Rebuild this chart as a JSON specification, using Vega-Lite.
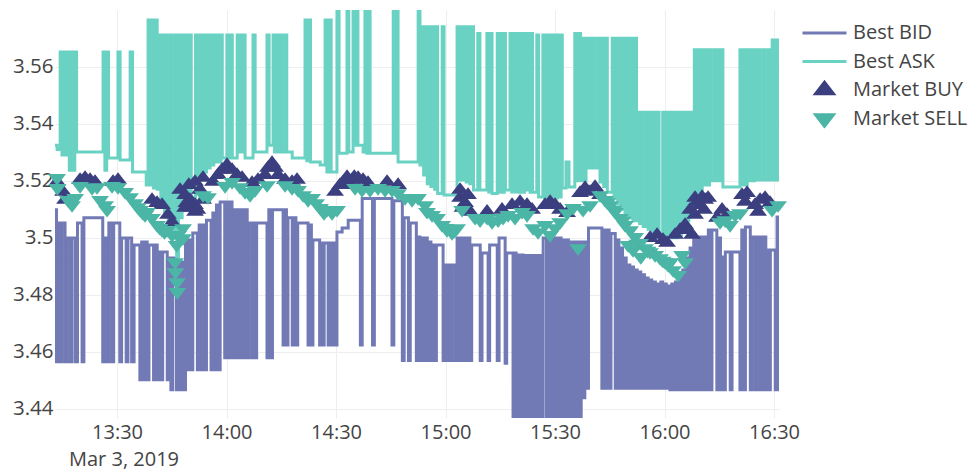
{
"$schema": "https://vega.github.io/schema/vega-lite/v6.json",
"autosize": {"type": "none"},
"width": 724, "height": 408,
"padding": {"left": 55, "top": 10, "right": 195, "bottom": 52},
"background": "white",
"config": {"font": "Open Sans", "view": {"stroke": null}},
"datasets": {
"bid": [
{"t":"2019-03-03T13:13:00","p":3.5098},{"t":"2019-03-03T13:13:25","p":3.4565},{"t":"2019-03-03T13:13:50","p":3.5052},{"t":"2019-03-03T13:14:25","p":3.4565},{"t":"2019-03-03T13:14:55","p":3.5052},{"t":"2019-03-03T13:15:45","p":3.4565},{"t":"2019-03-03T13:16:15","p":3.4999},{"t":"2019-03-03T13:17:05","p":3.4565},{"t":"2019-03-03T13:17:35","p":3.4999},{"t":"2019-03-03T13:18:30","p":3.4565},{"t":"2019-03-03T13:19:10","p":3.5052},{"t":"2019-03-03T13:20:25","p":3.4565},{"t":"2019-03-03T13:20:55","p":3.507},{"t":"2019-03-03T13:26:05","p":3.4565},{"t":"2019-03-03T13:26:35","p":3.4999},{"t":"2019-03-03T13:27:15","p":3.4565},{"t":"2019-03-03T13:27:45","p":3.5052},{"t":"2019-03-03T13:28:35","p":3.4565},{"t":"2019-03-03T13:29:05","p":3.5052},{"t":"2019-03-03T13:30:45","p":3.4565},{"t":"2019-03-03T13:31:15","p":3.4999},{"t":"2019-03-03T13:32:30","p":3.4565},{"t":"2019-03-03T13:33:00","p":3.4999},{"t":"2019-03-03T13:34:00","p":3.4565},{"t":"2019-03-03T13:34:40","p":3.4975},
{"t":"2019-03-03T13:36:15","p":3.4502},{"t":"2019-03-03T13:36:45","p":3.4985},{"t":"2019-03-03T13:37:15","p":3.4502},{"t":"2019-03-03T13:37:45","p":3.4985},{"t":"2019-03-03T13:38:15","p":3.4502},{"t":"2019-03-03T13:38:45","p":3.4975},{"t":"2019-03-03T13:40:00","p":3.4502},{"t":"2019-03-03T13:40:30","p":3.4975},{"t":"2019-03-03T13:41:00","p":3.4502},{"t":"2019-03-03T13:41:30","p":3.495},{"t":"2019-03-03T13:42:00","p":3.4502},{"t":"2019-03-03T13:42:30","p":3.495},{"t":"2019-03-03T13:43:45","p":3.4502},{"t":"2019-03-03T13:44:15","p":3.4929},{"t":"2019-03-03T13:44:45","p":3.4467},{"t":"2019-03-03T13:45:15","p":3.4929},{"t":"2019-03-03T13:46:15","p":3.4467},{"t":"2019-03-03T13:46:45","p":3.4915},{"t":"2019-03-03T13:47:15","p":3.4467},{"t":"2019-03-03T13:47:45","p":3.4915},{"t":"2019-03-03T13:48:15","p":3.4467},{"t":"2019-03-03T13:48:45","p":3.4992},
{"t":"2019-03-03T13:49:15","p":3.4537},{"t":"2019-03-03T13:49:45","p":3.4992},{"t":"2019-03-03T13:50:15","p":3.4537},{"t":"2019-03-03T13:50:45","p":3.5017},{"t":"2019-03-03T13:52:00","p":3.4537},{"t":"2019-03-03T13:52:30","p":3.5045},{"t":"2019-03-03T13:53:00","p":3.4537},{"t":"2019-03-03T13:53:30","p":3.5045},{"t":"2019-03-03T13:54:00","p":3.4537},{"t":"2019-03-03T13:54:30","p":3.5062},{"t":"2019-03-03T13:55:45","p":3.4537},{"t":"2019-03-03T13:56:15","p":3.5087},{"t":"2019-03-03T13:56:45","p":3.4537},{"t":"2019-03-03T13:57:15","p":3.5115},{"t":"2019-03-03T13:57:45","p":3.4537},{"t":"2019-03-03T13:58:15","p":3.5126},{"t":"2019-03-03T13:59:30","p":3.4579},{"t":"2019-03-03T14:00:00","p":3.5126},{"t":"2019-03-03T14:00:30","p":3.4579},{"t":"2019-03-03T14:01:00","p":3.5126},{"t":"2019-03-03T14:01:30","p":3.4579},{"t":"2019-03-03T14:02:00","p":3.5098},{"t":"2019-03-03T14:02:30","p":3.4579},{"t":"2019-03-03T14:03:00","p":3.5098},
{"t":"2019-03-03T14:03:40","p":3.4579},{"t":"2019-03-03T14:04:10","p":3.5098},{"t":"2019-03-03T14:04:40","p":3.4579},{"t":"2019-03-03T14:05:10","p":3.5098},{"t":"2019-03-03T14:05:40","p":3.4579},{"t":"2019-03-03T14:06:10","p":3.5052},{"t":"2019-03-03T14:07:00","p":3.4579},{"t":"2019-03-03T14:07:25","p":3.5052},{"t":"2019-03-03T14:07:50","p":3.4579},{"t":"2019-03-03T14:08:15","p":3.5052},{"t":"2019-03-03T14:11:05","p":3.4579},{"t":"2019-03-03T14:11:35","p":3.5098},{"t":"2019-03-03T14:12:05","p":3.4579},{"t":"2019-03-03T14:12:35","p":3.5098},{"t":"2019-03-03T14:15:30","p":3.4624},{"t":"2019-03-03T14:16:00","p":3.5098},{"t":"2019-03-03T14:16:25","p":3.4624},{"t":"2019-03-03T14:16:50","p":3.507},{"t":"2019-03-03T14:18:00","p":3.4624},{"t":"2019-03-03T14:18:30","p":3.507},{"t":"2019-03-03T14:19:00","p":3.4624},{"t":"2019-03-03T14:19:30","p":3.5052},{"t":"2019-03-03T14:22:20","p":3.4624},{"t":"2019-03-03T14:22:50","p":3.5045},{"t":"2019-03-03T14:23:15","p":3.4624},{"t":"2019-03-03T14:23:40","p":3.4992},{"t":"2019-03-03T14:25:30","p":3.4624},{"t":"2019-03-03T14:25:55","p":3.4982},{"t":"2019-03-03T14:26:20","p":3.4624},{"t":"2019-03-03T14:26:45","p":3.4982},{"t":"2019-03-03T14:27:50","p":3.4624},{"t":"2019-03-03T14:28:15","p":3.4982},{"t":"2019-03-03T14:28:40","p":3.4624},{"t":"2019-03-03T14:29:05","p":3.4982},{"t":"2019-03-03T14:29:40","p":3.4624},{"t":"2019-03-03T14:30:15","p":3.502},
{"t":"2019-03-03T14:31:40","p":3.5034},{"t":"2019-03-03T14:33:20","p":3.5062},{"t":"2019-03-03T14:36:40","p":3.4624},{"t":"2019-03-03T14:37:10","p":3.5138},{"t":"2019-03-03T14:40:00","p":3.4624},{"t":"2019-03-03T14:40:30","p":3.5138},{"t":"2019-03-03T14:45:20","p":3.4624},{"t":"2019-03-03T14:45:50","p":3.513},{"t":"2019-03-03T14:48:10","p":3.457},{"t":"2019-03-03T14:48:40","p":3.507},{"t":"2019-03-03T14:49:50","p":3.457},{"t":"2019-03-03T14:50:20","p":3.5052},{"t":"2019-03-03T14:52:00","p":3.457},{"t":"2019-03-03T14:52:25","p":3.5003},
{"t":"2019-03-03T14:53:00","p":3.457},{"t":"2019-03-03T14:53:30","p":3.4999},{"t":"2019-03-03T14:54:00","p":3.457},{"t":"2019-03-03T14:54:30","p":3.4999},{"t":"2019-03-03T14:55:00","p":3.457},{"t":"2019-03-03T14:55:30","p":3.4985},{"t":"2019-03-03T14:56:00","p":3.457},{"t":"2019-03-03T14:56:30","p":3.4975},{"t":"2019-03-03T14:57:00","p":3.457},{"t":"2019-03-03T14:57:30","p":3.4975},{"t":"2019-03-03T14:59:20","p":3.457},{"t":"2019-03-03T14:59:50","p":3.4905},{"t":"2019-03-03T15:00:20","p":3.457},{"t":"2019-03-03T15:00:50","p":3.4905},{"t":"2019-03-03T15:01:20","p":3.457},{"t":"2019-03-03T15:01:50","p":3.4905},{"t":"2019-03-03T15:02:40","p":3.457},{"t":"2019-03-03T15:03:10","p":3.4999},{"t":"2019-03-03T15:03:40","p":3.457},{"t":"2019-03-03T15:04:10","p":3.4999},{"t":"2019-03-03T15:04:40","p":3.457},{"t":"2019-03-03T15:05:10","p":3.4999},{"t":"2019-03-03T15:05:40","p":3.457},{"t":"2019-03-03T15:06:10","p":3.4999},{"t":"2019-03-03T15:06:40","p":3.457},{"t":"2019-03-03T15:07:10","p":3.4975},{"t":"2019-03-03T15:09:30","p":3.457},{"t":"2019-03-03T15:10:00","p":3.4947},{"t":"2019-03-03T15:11:40","p":3.457},{"t":"2019-03-03T15:12:05","p":3.4975},{"t":"2019-03-03T15:14:10","p":3.457},{"t":"2019-03-03T15:14:40","p":3.4999},
{"t":"2019-03-03T15:16:20","p":3.456},{"t":"2019-03-03T15:16:45","p":3.4947},{"t":"2019-03-03T15:18:30","p":3.4368},{"t":"2019-03-03T15:19:00","p":3.4947},{"t":"2019-03-03T15:19:20","p":3.4368},{"t":"2019-03-03T15:19:50","p":3.494},{"t":"2019-03-03T15:20:25","p":3.4368},{"t":"2019-03-03T15:20:55","p":3.494},{"t":"2019-03-03T15:21:15","p":3.4368},{"t":"2019-03-03T15:21:45","p":3.4938},{"t":"2019-03-03T15:22:15","p":3.4368},{"t":"2019-03-03T15:22:45","p":3.4938},{"t":"2019-03-03T15:23:15","p":3.4368},{"t":"2019-03-03T15:23:45","p":3.4938},{"t":"2019-03-03T15:24:15","p":3.4368},{"t":"2019-03-03T15:24:45","p":3.4938},{"t":"2019-03-03T15:25:15","p":3.4368},{"t":"2019-03-03T15:25:45","p":3.4938},{"t":"2019-03-03T15:26:15","p":3.4368},{"t":"2019-03-03T15:26:45","p":3.4999},{"t":"2019-03-03T15:27:40","p":3.4368},{"t":"2019-03-03T15:28:10","p":3.4999},{"t":"2019-03-03T15:28:40","p":3.4368},{"t":"2019-03-03T15:29:10","p":3.4999},{"t":"2019-03-03T15:29:40","p":3.4368},{"t":"2019-03-03T15:30:10","p":3.4999},{"t":"2019-03-03T15:30:40","p":3.4368},{"t":"2019-03-03T15:31:10","p":3.4999},{"t":"2019-03-03T15:31:40","p":3.4368},{"t":"2019-03-03T15:32:10","p":3.4992},{"t":"2019-03-03T15:32:40","p":3.4368},{"t":"2019-03-03T15:33:10","p":3.4992},{"t":"2019-03-03T15:33:40","p":3.4368},{"t":"2019-03-03T15:34:10","p":3.4985},{"t":"2019-03-03T15:34:40","p":3.4368},{"t":"2019-03-03T15:35:10","p":3.4985},{"t":"2019-03-03T15:35:40","p":3.4368},{"t":"2019-03-03T15:36:10","p":3.4985},{"t":"2019-03-03T15:36:40","p":3.4368},{"t":"2019-03-03T15:37:10","p":3.4985},{"t":"2019-03-03T15:37:40","p":3.4439},{"t":"2019-03-03T15:38:10","p":3.4985},{"t":"2019-03-03T15:38:40","p":3.4472},{"t":"2019-03-03T15:39:10","p":3.5034},
{"t":"2019-03-03T15:42:50","p":3.4472},{"t":"2019-03-03T15:43:20","p":3.5027},{"t":"2019-03-03T15:43:50","p":3.4472},{"t":"2019-03-03T15:44:20","p":3.5027},{"t":"2019-03-03T15:44:50","p":3.4472},{"t":"2019-03-03T15:45:20","p":3.5015},{"t":"2019-03-03T15:46:30","p":3.4472},{"t":"2019-03-03T15:47:00","p":3.4992},{"t":"2019-03-03T15:47:30","p":3.4472},{"t":"2019-03-03T15:48:00","p":3.4964},{"t":"2019-03-03T15:48:30","p":3.4472},{"t":"2019-03-03T15:49:00","p":3.4929},{"t":"2019-03-03T15:49:30","p":3.4472},{"t":"2019-03-03T15:50:00","p":3.4905},{"t":"2019-03-03T15:50:30","p":3.4472},{"t":"2019-03-03T15:51:00","p":3.4898},{"t":"2019-03-03T15:51:30","p":3.4472},{"t":"2019-03-03T15:52:00","p":3.4887},{"t":"2019-03-03T15:52:30","p":3.4472},{"t":"2019-03-03T15:53:00","p":3.488},{"t":"2019-03-03T15:53:30","p":3.4472},{"t":"2019-03-03T15:54:00","p":3.487},{"t":"2019-03-03T15:54:30","p":3.4472},{"t":"2019-03-03T15:55:00","p":3.4859},{"t":"2019-03-03T15:55:30","p":3.4472},{"t":"2019-03-03T15:56:00","p":3.4852},{"t":"2019-03-03T15:56:30","p":3.4472},{"t":"2019-03-03T15:57:00","p":3.4845},{"t":"2019-03-03T15:57:30","p":3.4472},{"t":"2019-03-03T15:58:00","p":3.4838},{"t":"2019-03-03T15:58:30","p":3.4472},{"t":"2019-03-03T15:59:00","p":3.4845},{"t":"2019-03-03T15:59:30","p":3.4472},{"t":"2019-03-03T16:00:00","p":3.4838},{"t":"2019-03-03T16:00:30","p":3.4472},{"t":"2019-03-03T16:01:00","p":3.4831},{"t":"2019-03-03T16:01:30","p":3.4467},{"t":"2019-03-03T16:02:00","p":3.4838},{"t":"2019-03-03T16:02:30","p":3.4467},{"t":"2019-03-03T16:03:00","p":3.4845},{"t":"2019-03-03T16:03:30","p":3.4467},{"t":"2019-03-03T16:04:00","p":3.4859},{"t":"2019-03-03T16:04:30","p":3.4467},{"t":"2019-03-03T16:05:00","p":3.4887},{"t":"2019-03-03T16:05:30","p":3.4467},{"t":"2019-03-03T16:06:00","p":3.4929},{"t":"2019-03-03T16:06:30","p":3.4467},{"t":"2019-03-03T16:07:00","p":3.4964},{"t":"2019-03-03T16:07:30","p":3.4467},{"t":"2019-03-03T16:08:00","p":3.4999},{"t":"2019-03-03T16:08:30","p":3.4467},{"t":"2019-03-03T16:09:00","p":3.5003},{"t":"2019-03-03T16:09:30","p":3.4467},{"t":"2019-03-03T16:10:00","p":3.5003},{"t":"2019-03-03T16:10:30","p":3.4467},{"t":"2019-03-03T16:11:00","p":3.5003},{"t":"2019-03-03T16:11:30","p":3.4467},{"t":"2019-03-03T16:12:00","p":3.5027},{"t":"2019-03-03T16:12:30","p":3.4467},{"t":"2019-03-03T16:13:00","p":3.5027},
{"t":"2019-03-03T16:14:20","p":3.4467},{"t":"2019-03-03T16:14:50","p":3.4999},{"t":"2019-03-03T16:15:20","p":3.4467},{"t":"2019-03-03T16:15:45","p":3.4933},{"t":"2019-03-03T16:16:10","p":3.4467},{"t":"2019-03-03T16:16:40","p":3.495},{"t":"2019-03-03T16:18:00","p":3.4467},{"t":"2019-03-03T16:18:30","p":3.495},{"t":"2019-03-03T16:20:40","p":3.4467},{"t":"2019-03-03T16:21:10","p":3.5027},{"t":"2019-03-03T16:21:40","p":3.4467},{"t":"2019-03-03T16:22:10","p":3.5038},{"t":"2019-03-03T16:23:30","p":3.4467},{"t":"2019-03-03T16:24:00","p":3.5003},{"t":"2019-03-03T16:24:50","p":3.4467},{"t":"2019-03-03T16:25:20","p":3.5003},{"t":"2019-03-03T16:25:45","p":3.4467},{"t":"2019-03-03T16:26:15","p":3.5003},{"t":"2019-03-03T16:26:45","p":3.4467},{"t":"2019-03-03T16:27:15","p":3.5003},{"t":"2019-03-03T16:27:45","p":3.4467},{"t":"2019-03-03T16:28:10","p":3.4957},{"t":"2019-03-03T16:28:35","p":3.4467},{"t":"2019-03-03T16:29:00","p":3.4957},{"t":"2019-03-03T16:30:20","p":3.4467},{"t":"2019-03-03T16:30:50","p":3.5073},{"t":"2019-03-03T16:31:05","p":3.4467},{"t":"2019-03-03T16:31:20","p":3.5073}
],
"ask": [
{"t":"2019-03-03T13:13:00","p":3.5325},{"t":"2019-03-03T13:13:35","p":3.531},{"t":"2019-03-03T13:14:25","p":3.5652},{"t":"2019-03-03T13:14:55","p":3.529},{"t":"2019-03-03T13:15:25","p":3.5652},{"t":"2019-03-03T13:15:55","p":3.529},{"t":"2019-03-03T13:16:25","p":3.5652},{"t":"2019-03-03T13:16:55","p":3.5237},{"t":"2019-03-03T13:17:25","p":3.5652},{"t":"2019-03-03T13:17:55","p":3.5237},{"t":"2019-03-03T13:18:25","p":3.5652},{"t":"2019-03-03T13:18:55","p":3.5301},{"t":"2019-03-03T13:26:10","p":3.5652},{"t":"2019-03-03T13:26:40","p":3.5237},{"t":"2019-03-03T13:27:10","p":3.5652},{"t":"2019-03-03T13:27:40","p":3.528},{"t":"2019-03-03T13:30:15","p":3.5652},{"t":"2019-03-03T13:30:50","p":3.5273},{"t":"2019-03-03T13:33:35","p":3.5652},{"t":"2019-03-03T13:34:15","p":3.5231},{"t":"2019-03-03T13:38:00","p":3.5185},
{"t":"2019-03-03T13:38:30","p":3.5764},{"t":"2019-03-03T13:39:00","p":3.5185},{"t":"2019-03-03T13:39:30","p":3.5764},{"t":"2019-03-03T13:40:00","p":3.5175},{"t":"2019-03-03T13:40:30","p":3.5764},{"t":"2019-03-03T13:41:00","p":3.517},{"t":"2019-03-03T13:41:30","p":3.5711},{"t":"2019-03-03T13:42:00","p":3.512},{"t":"2019-03-03T13:42:30","p":3.5711},{"t":"2019-03-03T13:43:00","p":3.509},{"t":"2019-03-03T13:43:30","p":3.5711},{"t":"2019-03-03T13:44:00","p":3.506},{"t":"2019-03-03T13:44:30","p":3.5711},{"t":"2019-03-03T13:45:00","p":3.4999},{"t":"2019-03-03T13:45:50","p":3.5711},{"t":"2019-03-03T13:46:20","p":3.4933},{"t":"2019-03-03T13:46:50","p":3.5711},{"t":"2019-03-03T13:47:20","p":3.507},{"t":"2019-03-03T13:47:50","p":3.5711},{"t":"2019-03-03T13:48:20","p":3.511},{"t":"2019-03-03T13:48:50","p":3.5711},{"t":"2019-03-03T13:49:20","p":3.514},{"t":"2019-03-03T13:49:50","p":3.5711},{"t":"2019-03-03T13:50:20","p":3.514},{"t":"2019-03-03T13:51:30","p":3.5711},{"t":"2019-03-03T13:52:00","p":3.521},{"t":"2019-03-03T13:52:30","p":3.5711},{"t":"2019-03-03T13:53:00","p":3.521},{"t":"2019-03-03T13:53:30","p":3.5711},{"t":"2019-03-03T13:54:00","p":3.5231},{"t":"2019-03-03T13:54:30","p":3.5711},{"t":"2019-03-03T13:55:00","p":3.5245},{"t":"2019-03-03T13:55:30","p":3.5711},{"t":"2019-03-03T13:56:00","p":3.5255},{"t":"2019-03-03T13:56:30","p":3.5711},{"t":"2019-03-03T13:57:00","p":3.5266},{"t":"2019-03-03T13:57:30","p":3.5711},{"t":"2019-03-03T13:58:00","p":3.5266},{"t":"2019-03-03T13:58:30","p":3.5711},{"t":"2019-03-03T13:58:50","p":3.528},{"t":"2019-03-03T14:00:05","p":3.5711},{"t":"2019-03-03T14:00:35","p":3.528},{"t":"2019-03-03T14:01:05","p":3.5711},{"t":"2019-03-03T14:01:35","p":3.528},{"t":"2019-03-03T14:02:55","p":3.5711},{"t":"2019-03-03T14:03:25","p":3.5301},{"t":"2019-03-03T14:03:55","p":3.5711},{"t":"2019-03-03T14:04:25","p":3.5301},{"t":"2019-03-03T14:04:45","p":3.5711},{"t":"2019-03-03T14:05:05","p":3.528},
{"t":"2019-03-03T14:07:15","p":3.5711},{"t":"2019-03-03T14:07:50","p":3.5301},{"t":"2019-03-03T14:11:05","p":3.5711},{"t":"2019-03-03T14:11:40","p":3.5325},{"t":"2019-03-03T14:12:45","p":3.5711},{"t":"2019-03-03T14:13:10","p":3.5301},{"t":"2019-03-03T14:13:35","p":3.5711},{"t":"2019-03-03T14:14:05","p":3.5301},{"t":"2019-03-03T14:14:40","p":3.5711},{"t":"2019-03-03T14:15:10","p":3.5301},{"t":"2019-03-03T14:16:00","p":3.5711},{"t":"2019-03-03T14:16:30","p":3.5301},{"t":"2019-03-03T14:18:00","p":3.528},{"t":"2019-03-03T14:21:30","p":3.5764},{"t":"2019-03-03T14:22:00","p":3.527},{"t":"2019-03-03T14:22:30","p":3.5764},{"t":"2019-03-03T14:23:00","p":3.5266},{"t":"2019-03-03T14:25:40","p":3.5255},{"t":"2019-03-03T14:27:00","p":3.5764},{"t":"2019-03-03T14:27:30","p":3.5231},{"t":"2019-03-03T14:28:00","p":3.5764},{"t":"2019-03-03T14:28:40","p":3.5231},{"t":"2019-03-03T14:30:15","p":3.58},{"t":"2019-03-03T14:30:50","p":3.5297},{"t":"2019-03-03T14:33:00","p":3.58},{"t":"2019-03-03T14:33:30","p":3.5301},{"t":"2019-03-03T14:34:40","p":3.58},{"t":"2019-03-03T14:35:10","p":3.5325},{"t":"2019-03-03T14:35:35","p":3.58},{"t":"2019-03-03T14:36:00","p":3.5325},{"t":"2019-03-03T14:37:25","p":3.5301},{"t":"2019-03-03T14:37:55","p":3.58},{"t":"2019-03-03T14:38:25","p":3.5297},{"t":"2019-03-03T14:38:55","p":3.58},{"t":"2019-03-03T14:39:20","p":3.5297},{"t":"2019-03-03T14:45:40","p":3.58},{"t":"2019-03-03T14:46:10","p":3.5297},{"t":"2019-03-03T14:46:35","p":3.58},{"t":"2019-03-03T14:47:00","p":3.5266},{"t":"2019-03-03T14:52:30","p":3.58},{"t":"2019-03-03T14:53:00","p":3.5255},
{"t":"2019-03-03T14:53:30","p":3.574},{"t":"2019-03-03T14:54:00","p":3.522},{"t":"2019-03-03T14:54:30","p":3.574},{"t":"2019-03-03T14:55:00","p":3.519},{"t":"2019-03-03T14:55:30","p":3.574},{"t":"2019-03-03T14:56:00","p":3.518},{"t":"2019-03-03T14:56:30","p":3.574},{"t":"2019-03-03T14:57:00","p":3.517},{"t":"2019-03-03T14:57:30","p":3.574},{"t":"2019-03-03T14:57:50","p":3.5155},{"t":"2019-03-03T14:59:05","p":3.574},{"t":"2019-03-03T14:59:35","p":3.515},{"t":"2019-03-03T15:03:10","p":3.574},{"t":"2019-03-03T15:03:40","p":3.5203},{"t":"2019-03-03T15:04:10","p":3.574},{"t":"2019-03-03T15:04:40","p":3.5203},{"t":"2019-03-03T15:05:10","p":3.574},{"t":"2019-03-03T15:05:40","p":3.5196},{"t":"2019-03-03T15:06:10","p":3.574},{"t":"2019-03-03T15:06:40","p":3.519},{"t":"2019-03-03T15:07:10","p":3.574},{"t":"2019-03-03T15:07:40","p":3.5168},{"t":"2019-03-03T15:08:50","p":3.5717},{"t":"2019-03-03T15:09:25","p":3.5168},{"t":"2019-03-03T15:11:20","p":3.5717},{"t":"2019-03-03T15:11:50","p":3.5161},{"t":"2019-03-03T15:12:15","p":3.5717},{"t":"2019-03-03T15:12:45","p":3.5155},{"t":"2019-03-03T15:14:10","p":3.5717},{"t":"2019-03-03T15:14:40","p":3.516},{"t":"2019-03-03T15:15:10","p":3.5717},{"t":"2019-03-03T15:15:40","p":3.516},{"t":"2019-03-03T15:16:05","p":3.5717},{"t":"2019-03-03T15:16:25","p":3.5168},{"t":"2019-03-03T15:17:40","p":3.5717},{"t":"2019-03-03T15:18:10","p":3.5161},{"t":"2019-03-03T15:18:40","p":3.5717},{"t":"2019-03-03T15:19:10","p":3.5161},{"t":"2019-03-03T15:19:40","p":3.5717},{"t":"2019-03-03T15:20:10","p":3.516},{"t":"2019-03-03T15:20:40","p":3.5717},{"t":"2019-03-03T15:21:10","p":3.516},{"t":"2019-03-03T15:21:40","p":3.5717},{"t":"2019-03-03T15:22:00","p":3.5168},{"t":"2019-03-03T15:22:40","p":3.5717},{"t":"2019-03-03T15:23:10","p":3.516},{"t":"2019-03-03T15:23:30","p":3.5717},{"t":"2019-03-03T15:23:50","p":3.516},{"t":"2019-03-03T15:25:00","p":3.5711},{"t":"2019-03-03T15:25:30","p":3.5143},{"t":"2019-03-03T15:26:40","p":3.5711},{"t":"2019-03-03T15:27:10","p":3.514},{"t":"2019-03-03T15:27:40","p":3.5711},{"t":"2019-03-03T15:28:10","p":3.514},{"t":"2019-03-03T15:28:40","p":3.5711},{"t":"2019-03-03T15:29:10","p":3.514},{"t":"2019-03-03T15:29:40","p":3.5711},{"t":"2019-03-03T15:30:10","p":3.514},{"t":"2019-03-03T15:30:40","p":3.5711},{"t":"2019-03-03T15:31:10","p":3.5143},{"t":"2019-03-03T15:31:40","p":3.5711},{"t":"2019-03-03T15:32:00","p":3.5175},{"t":"2019-03-03T15:33:00","p":3.5266},{"t":"2019-03-03T15:33:50","p":3.5178},{"t":"2019-03-03T15:35:25","p":3.5717},{"t":"2019-03-03T15:36:00","p":3.52},{"t":"2019-03-03T15:36:30","p":3.5717},{"t":"2019-03-03T15:37:00","p":3.52},{"t":"2019-03-03T15:37:30","p":3.57},{"t":"2019-03-03T15:38:00","p":3.52},{"t":"2019-03-03T15:38:30","p":3.57},{"t":"2019-03-03T15:39:00","p":3.5245},{"t":"2019-03-03T15:39:30","p":3.57},{"t":"2019-03-03T15:40:00","p":3.5245},{"t":"2019-03-03T15:40:30","p":3.57},{"t":"2019-03-03T15:41:00","p":3.5245},{"t":"2019-03-03T15:41:50","p":3.57},{"t":"2019-03-03T15:42:20","p":3.5196},{"t":"2019-03-03T15:42:50","p":3.57},{"t":"2019-03-03T15:43:20","p":3.518},{"t":"2019-03-03T15:43:50","p":3.57},{"t":"2019-03-03T15:44:20","p":3.516},{"t":"2019-03-03T15:45:40","p":3.57},{"t":"2019-03-03T15:46:10","p":3.514},{"t":"2019-03-03T15:46:40","p":3.57},{"t":"2019-03-03T15:47:10","p":3.512},{"t":"2019-03-03T15:47:40","p":3.57},{"t":"2019-03-03T15:48:10","p":3.51},{"t":"2019-03-03T15:48:40","p":3.57},{"t":"2019-03-03T15:49:10","p":3.508},{"t":"2019-03-03T15:49:40","p":3.57},{"t":"2019-03-03T15:50:10","p":3.507},{"t":"2019-03-03T15:50:50","p":3.57},{"t":"2019-03-03T15:51:20","p":3.506},{"t":"2019-03-03T15:51:50","p":3.57},{"t":"2019-03-03T15:52:20","p":3.506},
{"t":"2019-03-03T15:52:40","p":3.544},{"t":"2019-03-03T15:53:10","p":3.505},{"t":"2019-03-03T15:53:40","p":3.544},{"t":"2019-03-03T15:54:10","p":3.504},{"t":"2019-03-03T15:55:00","p":3.544},{"t":"2019-03-03T15:55:30","p":3.503},{"t":"2019-03-03T15:56:00","p":3.544},{"t":"2019-03-03T15:56:30","p":3.502},{"t":"2019-03-03T15:57:00","p":3.544},{"t":"2019-03-03T15:57:30","p":3.502},{"t":"2019-03-03T15:58:00","p":3.544},{"t":"2019-03-03T15:58:30","p":3.501},{"t":"2019-03-03T15:59:30","p":3.544},{"t":"2019-03-03T16:00:00","p":3.501},{"t":"2019-03-03T16:00:30","p":3.544},{"t":"2019-03-03T16:01:00","p":3.501},{"t":"2019-03-03T16:01:40","p":3.544},{"t":"2019-03-03T16:02:10","p":3.5},{"t":"2019-03-03T16:02:40","p":3.544},{"t":"2019-03-03T16:03:10","p":3.5},{"t":"2019-03-03T16:03:40","p":3.544},{"t":"2019-03-03T16:04:10","p":3.501},{"t":"2019-03-03T16:04:40","p":3.544},{"t":"2019-03-03T16:05:10","p":3.503},{"t":"2019-03-03T16:05:40","p":3.544},{"t":"2019-03-03T16:06:10","p":3.506},{"t":"2019-03-03T16:06:40","p":3.544},{"t":"2019-03-03T16:07:10","p":3.51},{"t":"2019-03-03T16:07:40","p":3.544},{"t":"2019-03-03T16:08:00","p":3.514},{"t":"2019-03-03T16:08:10","p":3.566},{"t":"2019-03-03T16:08:40","p":3.516},{"t":"2019-03-03T16:09:10","p":3.566},{"t":"2019-03-03T16:09:40","p":3.516},{"t":"2019-03-03T16:10:20","p":3.566},{"t":"2019-03-03T16:10:50","p":3.5185},{"t":"2019-03-03T16:11:20","p":3.566},{"t":"2019-03-03T16:11:50","p":3.5185},{"t":"2019-03-03T16:12:20","p":3.566},{"t":"2019-03-03T16:12:50","p":3.52},{"t":"2019-03-03T16:13:40","p":3.566},{"t":"2019-03-03T16:14:10","p":3.52},{"t":"2019-03-03T16:14:40","p":3.566},{"t":"2019-03-03T16:15:10","p":3.52},{"t":"2019-03-03T16:15:40","p":3.566},{"t":"2019-03-03T16:16:00","p":3.5178},{"t":"2019-03-03T16:20:40","p":3.566},{"t":"2019-03-03T16:21:10","p":3.5185},{"t":"2019-03-03T16:21:40","p":3.566},{"t":"2019-03-03T16:22:10","p":3.5185},{"t":"2019-03-03T16:22:40","p":3.566},{"t":"2019-03-03T16:23:10","p":3.52},{"t":"2019-03-03T16:23:40","p":3.566},{"t":"2019-03-03T16:24:10","p":3.52},{"t":"2019-03-03T16:24:40","p":3.566},{"t":"2019-03-03T16:25:10","p":3.5203},{"t":"2019-03-03T16:25:40","p":3.566},{"t":"2019-03-03T16:26:10","p":3.5203},{"t":"2019-03-03T16:27:00","p":3.566},{"t":"2019-03-03T16:27:30","p":3.5203},{"t":"2019-03-03T16:28:20","p":3.566},{"t":"2019-03-03T16:28:50","p":3.5203},{"t":"2019-03-03T16:29:30","p":3.5694},{"t":"2019-03-03T16:30:00","p":3.5203},{"t":"2019-03-03T16:30:20","p":3.5694},{"t":"2019-03-03T16:30:50","p":3.5203},{"t":"2019-03-03T16:31:05","p":3.5694},{"t":"2019-03-03T16:31:20","p":3.5203}
],
"buy": [
{"t":"2019-03-03T13:13:34","p":3.5196},{"t":"2019-03-03T13:15:12","p":3.5161},{"t":"2019-03-03T13:15:45","p":3.5133},{"t":"2019-03-03T13:19:52","p":3.5203},{"t":"2019-03-03T13:21:14","p":3.521},{"t":"2019-03-03T13:22:36","p":3.5203},{"t":"2019-03-03T13:23:58","p":3.5196},{"t":"2019-03-03T13:28:54","p":3.5196},{"t":"2019-03-03T13:30:16","p":3.5203},{"t":"2019-03-03T13:39:35","p":3.5133},{"t":"2019-03-03T13:40:58","p":3.5122},{"t":"2019-03-03T13:42:20","p":3.5115},{"t":"2019-03-03T13:43:58","p":3.508},{"t":"2019-03-03T13:45:04","p":3.5055},{"t":"2019-03-03T13:47:16","p":3.5168},{"t":"2019-03-03T13:48:38","p":3.515},{"t":"2019-03-03T13:48:38","p":3.5105},{"t":"2019-03-03T13:49:00","p":3.5122},{"t":"2019-03-03T13:49:40","p":3.5185},{"t":"2019-03-03T13:50:00","p":3.5133},{"t":"2019-03-03T13:50:30","p":3.5105},{"t":"2019-03-03T13:51:22","p":3.5115},{"t":"2019-03-03T13:51:22","p":3.5091},{"t":"2019-03-03T13:51:22","p":3.5196},{"t":"2019-03-03T13:52:00","p":3.5098},{"t":"2019-03-03T13:52:45","p":3.5168},{"t":"2019-03-03T13:53:34","p":3.5133},{"t":"2019-03-03T13:53:34","p":3.521},{"t":"2019-03-03T13:56:18","p":3.5196},{"t":"2019-03-03T13:57:40","p":3.522},{"t":"2019-03-03T13:58:46","p":3.5238},{"t":"2019-03-03T14:00:08","p":3.5255},{"t":"2019-03-03T14:01:31","p":3.5238},{"t":"2019-03-03T14:02:53","p":3.522},{"t":"2019-03-03T14:04:15","p":3.521},{"t":"2019-03-03T14:06:59","p":3.5192},{"t":"2019-03-03T14:08:38","p":3.5203},{"t":"2019-03-03T14:10:33","p":3.522},{"t":"2019-03-03T14:11:22","p":3.5245},{"t":"2019-03-03T14:12:28","p":3.5262},{"t":"2019-03-03T14:13:18","p":3.5245},{"t":"2019-03-03T14:14:07","p":3.522},{"t":"2019-03-03T14:16:02","p":3.5203},{"t":"2019-03-03T14:17:57","p":3.5196},{"t":"2019-03-03T14:19:19","p":3.5203},{"t":"2019-03-03T14:29:44","p":3.5161},{"t":"2019-03-03T14:31:06","p":3.5185},{"t":"2019-03-03T14:32:00","p":3.5196},{"t":"2019-03-03T14:33:01","p":3.5213},{"t":"2019-03-03T14:33:40","p":3.5185},{"t":"2019-03-03T14:34:23","p":3.5203},{"t":"2019-03-03T14:35:00","p":3.5213},{"t":"2019-03-03T14:36:02","p":3.521},{"t":"2019-03-03T14:37:24","p":3.5203},{"t":"2019-03-03T14:38:46","p":3.5192},{"t":"2019-03-03T14:43:59","p":3.5196},{"t":"2019-03-03T14:47:00","p":3.5185},{"t":"2019-03-03T15:03:59","p":3.5168},{"t":"2019-03-03T15:03:59","p":3.514},{"t":"2019-03-03T15:04:40","p":3.5105},{"t":"2019-03-03T15:05:21","p":3.5122},{"t":"2019-03-03T15:06:10","p":3.515},{"t":"2019-03-03T15:06:43","p":3.5091},{"t":"2019-03-03T15:11:23","p":3.5091},{"t":"2019-03-03T15:15:29","p":3.5098},{"t":"2019-03-03T15:18:14","p":3.5115},{"t":"2019-03-03T15:20:25","p":3.5126},{"t":"2019-03-03T15:22:20","p":3.5115},{"t":"2019-03-03T15:23:43","p":3.5098},{"t":"2019-03-03T15:27:16","p":3.5115},{"t":"2019-03-03T15:28:39","p":3.5126},{"t":"2019-03-03T15:30:01","p":3.5115},{"t":"2019-03-03T15:31:23","p":3.5098},{"t":"2019-03-03T15:33:18","p":3.5087},{"t":"2019-03-03T15:36:52","p":3.5157},{"t":"2019-03-03T15:38:14","p":3.5175},{"t":"2019-03-03T15:39:36","p":3.5161},{"t":"2019-03-03T15:40:58","p":3.5178},{"t":"2019-03-03T15:42:21","p":3.515},{"t":"2019-03-03T15:56:03","p":3.4999},{"t":"2019-03-03T15:57:58","p":3.501},{"t":"2019-03-03T15:59:36","p":3.4992},{"t":"2019-03-03T16:00:42","p":3.4982},{"t":"2019-03-03T16:02:54","p":3.501},{"t":"2019-03-03T16:04:16","p":3.5027},{"t":"2019-03-03T16:05:38","p":3.5045},{"t":"2019-03-03T16:06:27","p":3.5027},{"t":"2019-03-03T16:07:00","p":3.5098},{"t":"2019-03-03T16:07:33","p":3.501},{"t":"2019-03-03T16:08:22","p":3.508},{"t":"2019-03-03T16:08:22","p":3.514},{"t":"2019-03-03T16:09:00","p":3.5126},{"t":"2019-03-03T16:09:45","p":3.5115},{"t":"2019-03-03T16:10:17","p":3.5143},{"t":"2019-03-03T16:10:50","p":3.5098},{"t":"2019-03-03T16:11:07","p":3.5133},{"t":"2019-03-03T16:11:56","p":3.514},{"t":"2019-03-03T16:14:24","p":3.507},{"t":"2019-03-03T16:15:46","p":3.5098},{"t":"2019-03-03T16:17:08","p":3.508},{"t":"2019-03-03T16:21:15","p":3.515},{"t":"2019-03-03T16:22:04","p":3.5126},{"t":"2019-03-03T16:22:37","p":3.5157},{"t":"2019-03-03T16:24:49","p":3.5115},{"t":"2019-03-03T16:25:38","p":3.5091},{"t":"2019-03-03T16:26:11","p":3.5133},{"t":"2019-03-03T16:27:33","p":3.514},{"t":"2019-03-03T16:28:55","p":3.5122}
],
"sell": [
{"t":"2019-03-03T13:13:34","p":3.521},{"t":"2019-03-03T13:13:40","p":3.5175},{"t":"2019-03-03T13:16:34","p":3.5133},{"t":"2019-03-03T13:17:40","p":3.5115},{"t":"2019-03-03T13:18:30","p":3.514},{"t":"2019-03-03T13:19:52","p":3.5182},{"t":"2019-03-03T13:23:09","p":3.5175},{"t":"2019-03-03T13:24:31","p":3.5178},{"t":"2019-03-03T13:25:21","p":3.5133},{"t":"2019-03-03T13:26:43","p":3.5115},{"t":"2019-03-03T13:27:16","p":3.5098},{"t":"2019-03-03T13:28:38","p":3.5182},{"t":"2019-03-03T13:30:16","p":3.5178},{"t":"2019-03-03T13:32:12","p":3.5161},{"t":"2019-03-03T13:33:34","p":3.5143},{"t":"2019-03-03T13:34:56","p":3.5122},{"t":"2019-03-03T13:35:40","p":3.5108},{"t":"2019-03-03T13:36:18","p":3.5098},{"t":"2019-03-03T13:37:00","p":3.5088},{"t":"2019-03-03T13:37:40","p":3.508},{"t":"2019-03-03T13:38:13","p":3.5091},{"t":"2019-03-03T13:39:35","p":3.507},{"t":"2019-03-03T13:40:58","p":3.5045},{"t":"2019-03-03T13:41:40","p":3.5035},{"t":"2019-03-03T13:42:20","p":3.5027},{"t":"2019-03-03T13:43:00","p":3.502},{"t":"2019-03-03T13:43:42","p":3.5027},{"t":"2019-03-03T13:45:04","p":3.501},{"t":"2019-03-03T13:45:54","p":3.4915},{"t":"2019-03-03T13:46:00","p":3.488},{"t":"2019-03-03T13:46:20","p":3.4975},{"t":"2019-03-03T13:46:26","p":3.4845},{"t":"2019-03-03T13:46:30","p":3.481},{"t":"2019-03-03T13:46:43","p":3.501},{"t":"2019-03-03T13:48:05","p":3.5034},{"t":"2019-03-03T13:48:05","p":3.4999},{"t":"2019-03-03T13:53:34","p":3.515},{"t":"2019-03-03T13:54:56","p":3.5143},{"t":"2019-03-03T13:59:36","p":3.5182},{"t":"2019-03-03T14:01:31","p":3.5196},{"t":"2019-03-03T14:03:42","p":3.5178},{"t":"2019-03-03T14:05:04","p":3.5161},{"t":"2019-03-03T14:06:27","p":3.515},{"t":"2019-03-03T14:07:49","p":3.5168},{"t":"2019-03-03T14:11:06","p":3.5185},{"t":"2019-03-03T14:16:02","p":3.5185},{"t":"2019-03-03T14:17:57","p":3.5175},{"t":"2019-03-03T14:19:36","p":3.5168},{"t":"2019-03-03T14:20:58","p":3.515},{"t":"2019-03-03T14:22:20","p":3.5133},{"t":"2019-03-03T14:23:26","p":3.514},{"t":"2019-03-03T14:24:32","p":3.5122},{"t":"2019-03-03T14:25:37","p":3.5105},{"t":"2019-03-03T14:26:43","p":3.5087},{"t":"2019-03-03T14:27:32","p":3.5098},{"t":"2019-03-03T14:28:55","p":3.5087},{"t":"2019-03-03T14:30:17","p":3.5098},{"t":"2019-03-03T14:35:13","p":3.5175},{"t":"2019-03-03T14:37:08","p":3.5168},{"t":"2019-03-03T14:39:19","p":3.5168},{"t":"2019-03-03T14:41:31","p":3.5175},{"t":"2019-03-03T14:43:26","p":3.5168},{"t":"2019-03-03T14:45:21","p":3.5168},{"t":"2019-03-03T14:47:00","p":3.5157},{"t":"2019-03-03T14:48:55","p":3.514},{"t":"2019-03-03T14:50:50","p":3.5133},{"t":"2019-03-03T14:52:28","p":3.514},{"t":"2019-03-03T14:54:24","p":3.5115},{"t":"2019-03-03T14:54:56","p":3.5091},{"t":"2019-03-03T14:56:19","p":3.508},{"t":"2019-03-03T14:57:41","p":3.507},{"t":"2019-03-03T14:59:03","p":3.5045},{"t":"2019-03-03T15:00:00","p":3.5035},{"t":"2019-03-03T15:00:25","p":3.5027},{"t":"2019-03-03T15:01:47","p":3.5017},{"t":"2019-03-03T15:02:30","p":3.5025},{"t":"2019-03-03T15:03:10","p":3.5034},{"t":"2019-03-03T15:04:32","p":3.5098},{"t":"2019-03-03T15:08:06","p":3.507},{"t":"2019-03-03T15:09:28","p":3.5062},{"t":"2019-03-03T15:11:23","p":3.507},{"t":"2019-03-03T15:12:45","p":3.5055},{"t":"2019-03-03T15:14:24","p":3.5062},{"t":"2019-03-03T15:15:46","p":3.507},{"t":"2019-03-03T15:17:08","p":3.508},{"t":"2019-03-03T15:19:03","p":3.507},{"t":"2019-03-03T15:20:58","p":3.5091},{"t":"2019-03-03T15:22:20","p":3.508},{"t":"2019-03-03T15:23:59","p":3.5034},{"t":"2019-03-03T15:25:21","p":3.502},{"t":"2019-03-03T15:27:16","p":3.5045},{"t":"2019-03-03T15:28:39","p":3.501},{"t":"2019-03-03T15:30:01","p":3.5034},{"t":"2019-03-03T15:31:23","p":3.5055},{"t":"2019-03-03T15:33:18","p":3.5087},{"t":"2019-03-03T15:34:57","p":3.5105},{"t":"2019-03-03T15:36:19","p":3.4964},{"t":"2019-03-03T15:37:41","p":3.5098},{"t":"2019-03-03T15:39:36","p":3.5115},{"t":"2019-03-03T15:42:21","p":3.515},{"t":"2019-03-03T15:43:43","p":3.5133},{"t":"2019-03-03T15:44:20","p":3.5125},{"t":"2019-03-03T15:45:05","p":3.5115},{"t":"2019-03-03T15:46:00","p":3.51},{"t":"2019-03-03T15:46:27","p":3.5091},{"t":"2019-03-03T15:47:49","p":3.507},{"t":"2019-03-03T15:48:30","p":3.506},{"t":"2019-03-03T15:49:12","p":3.5045},{"t":"2019-03-03T15:50:01","p":3.4975},{"t":"2019-03-03T15:50:34","p":3.5027},{"t":"2019-03-03T15:51:23","p":3.4957},{"t":"2019-03-03T15:51:56","p":3.5003},{"t":"2019-03-03T15:52:30","p":3.498},{"t":"2019-03-03T15:53:18","p":3.4982},{"t":"2019-03-03T15:53:30","p":3.4933},{"t":"2019-03-03T15:54:40","p":3.4964},{"t":"2019-03-03T15:55:20","p":3.4955},{"t":"2019-03-03T15:56:03","p":3.495},{"t":"2019-03-03T15:57:25","p":3.494},{"t":"2019-03-03T15:58:47","p":3.4929},{"t":"2019-03-03T15:59:30","p":3.492},{"t":"2019-03-03T16:00:09","p":3.4915},{"t":"2019-03-03T16:01:00","p":3.4905},{"t":"2019-03-03T16:01:31","p":3.4915},{"t":"2019-03-03T16:02:21","p":3.4887},{"t":"2019-03-03T16:03:43","p":3.487},{"t":"2019-03-03T16:04:49","p":3.494},{"t":"2019-03-03T16:05:38","p":3.4915},{"t":"2019-03-03T16:15:13","p":3.5055},{"t":"2019-03-03T16:16:36","p":3.5062},{"t":"2019-03-03T16:17:58","p":3.5045},{"t":"2019-03-03T16:19:20","p":3.508},{"t":"2019-03-03T16:20:42","p":3.5087},{"t":"2019-03-03T16:29:28","p":3.5098},{"t":"2019-03-03T16:31:07","p":3.5115}
]
},
"encoding": {
"x": {"field": "t", "type": "temporal",
 "scale": {"domain": [{"year": 2019, "month": 3, "date": 3, "hours": 13, "minutes": 13}, {"year": 2019, "month": 3, "date": 3, "hours": 16, "minutes": 31, "seconds": 22}], "nice": false},
 "axis": {"title": "Mar 3, 2019", "titleFontSize": 20, "titleFontWeight": "normal", "titleColor": "#444444", "titleAnchor": "start", "titleAlign": "center", "titleBaseline": "middle", "titleX": 68.5, "titleY": 41,
  "grid": true, "gridColor": "#eeeeee", "gridWidth": 1, "domain": false, "ticks": false, "tickSize": 0, "labelFontSize": 20, "labelColor": "#444444", "labelPadding": 4, "labelFlush": false, "labelOverlap": false, "format": "%H:%M",
  "values": [{"year": 2019, "month": 3, "date": 3, "hours": 13, "minutes": 30}, {"year": 2019, "month": 3, "date": 3, "hours": 14, "minutes": 0}, {"year": 2019, "month": 3, "date": 3, "hours": 14, "minutes": 30}, {"year": 2019, "month": 3, "date": 3, "hours": 15, "minutes": 0}, {"year": 2019, "month": 3, "date": 3, "hours": 15, "minutes": 30}, {"year": 2019, "month": 3, "date": 3, "hours": 16, "minutes": 0}, {"year": 2019, "month": 3, "date": 3, "hours": 16, "minutes": 30}]}},
"y": {"field": "p", "type": "quantitative",
 "scale": {"domain": [3.4368, 3.5799], "nice": false, "zero": false},
 "axis": {"title": null, "values": [3.44, 3.46, 3.48, 3.5, 3.52, 3.54, 3.56], "format": ".2~f", "grid": true, "gridColor": "#eeeeee", "gridWidth": 1, "domain": false, "ticks": false, "tickSize": 0, "labelFontSize": 20.5, "labelColor": "#444444", "labelPadding": 2}}
},
"layer": [
{"data": {"name": "bid"}, "mark": {"type": "line", "interpolate": "step-after", "strokeWidth": 3, "clip": true},
 "encoding": {"color": {"datum": "Best BID",
  "scale": {"domain": ["Best BID", "Best ASK", "Market BUY", "Market SELL"], "range": ["#727ab5", "#6ad2c2", "#3c3f7f", "#4bb6a6"]},
  "legend": {"title": null, "orient": "none", "legendX": 746, "legendY": 13, "padding": 0, "clipHeight": 20, "rowPadding": 8.5, "symbolStrokeWidth": 3, "labelFontSize": 20, "labelColor": "#444444", "labelOffset": 5,
   "encode": {"symbols": {"update": {
    "shape": {"signal": "datum.value == 'Market BUY' ? 'M-1.155,0.5H1.155L0,-1Z' : datum.value == 'Market SELL' ? 'M-1.155,-0.5H1.155L0,1Z' : 'stroke'"},
    "size": {"signal": "datum.value == 'Market BUY' || datum.value == 'Market SELL' ? 240 : 1936"},
    "fill": {"signal": "datum.value == 'Market BUY' ? '#3c3f7f' : datum.value == 'Market SELL' ? '#4bb6a6' : 'transparent'"},
    "stroke": {"signal": "datum.value == 'Best BID' ? '#727ab5' : datum.value == 'Best ASK' ? '#6ad2c2' : 'transparent'"},
    "opacity": {"value": 1}}}}}}}},
{"data": {"name": "ask"}, "mark": {"type": "line", "interpolate": "step-after", "strokeWidth": 3, "clip": true},
 "encoding": {"color": {"datum": "Best ASK"}}},
{"data": {"name": "buy"}, "mark": {"type": "point", "shape": "M-1.155,0.5H1.155L0,-1Z", "filled": true, "size": 240, "opacity": 1},
 "encoding": {"color": {"datum": "Market BUY"}}},
{"data": {"name": "sell"}, "mark": {"type": "point", "shape": "M-1.155,-0.5H1.155L0,1Z", "filled": true, "size": 240, "opacity": 1},
 "encoding": {"color": {"datum": "Market SELL"}}}
]
}
